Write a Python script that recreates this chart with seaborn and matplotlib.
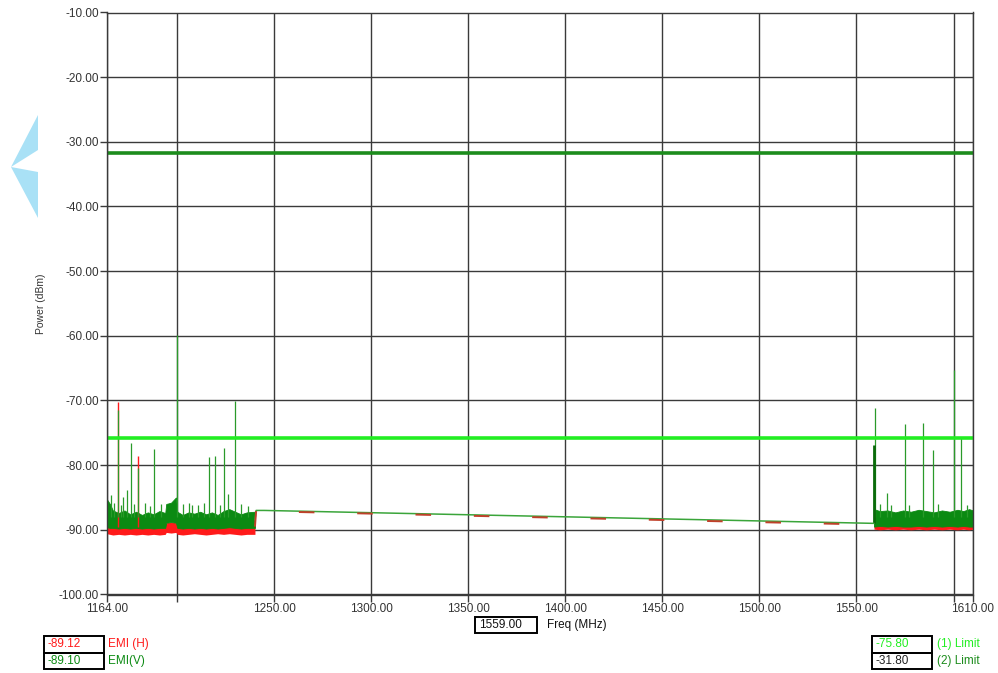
import matplotlib
matplotlib.use("Agg")
import matplotlib.pyplot as plt
from matplotlib.patches import Rectangle, Polygon
import seaborn as sns

band_freq_left = [1164.0, 1165.5, 1167.0, 1170.0, 1173.0, 1176.0, 1179.0, 1182.0, 1185.0,
                  1188.0, 1191.0, 1194.0, 1194.5, 1197.0, 1199.5, 1200.2, 1203.0, 1206.0,
                  1209.0, 1212.0, 1215.0, 1218.0, 1221.0, 1224.0, 1227.0, 1230.0, 1233.0,
                  1236.0, 1240.2]
v_hi_left = [-85.3, -86.0, -87.0, -87.4, -87.0, -87.6, -87.2, -87.7, -87.3,
             -87.6, -87.1, -87.4, -86.0, -85.8, -85.0, -87.2, -87.7, -87.3,
             -87.5, -87.2, -87.6, -87.3, -87.7, -87.1, -86.8, -87.2, -87.6,
             -87.3, -87.2]
v_lo_left = [-89.6, -89.7, -89.7, -89.8, -89.7, -89.8, -89.7, -89.8, -89.7,
             -89.8, -89.7, -89.7, -88.9, -88.8, -88.9, -89.7, -89.8, -89.7,
             -89.8, -89.7, -89.8, -89.7, -89.8, -89.7, -89.6, -89.7, -89.8,
             -89.7, -89.7]
h_hi_left = [-88.8, -88.9, -89.0, -89.1, -89.0, -89.1, -89.0, -89.1, -89.0,
             -89.1, -89.0, -89.0, -88.9, -88.8, -88.9, -89.0, -89.1, -89.0,
             -89.1, -89.0, -89.1, -89.0, -89.1, -89.0, -88.9, -89.0, -89.1,
             -89.0, -89.0]
h_lo_left = [-90.6, -90.7, -90.8, -90.7, -90.8, -90.7, -90.8, -90.7, -90.8,
             -90.7, -90.8, -90.7, -90.4, -90.5, -90.4, -90.7, -90.8, -90.7,
             -90.6, -90.7, -90.8, -90.7, -90.6, -90.7, -90.6, -90.7, -90.8,
             -90.7, -90.7]

band_freq_right = [1559.0, 1562.0, 1566.0, 1570.0, 1574.0, 1578.0, 1582.0, 1586.0,
                   1590.0, 1594.0, 1598.0, 1602.0, 1605.0, 1608.0, 1610.0]
v_hi_right = [-86.8, -87.1, -87.0, -87.3, -87.0, -87.2, -86.9, -87.1,
              -87.3, -87.0, -87.2, -86.9, -87.1, -86.8, -87.0]
v_lo_right = [-89.5, -89.4, -89.5, -89.4, -89.5, -89.5, -89.4, -89.5,
              -89.4, -89.5, -89.4, -89.5, -89.4, -89.5, -89.5]
h_hi_right = [-87.6, -87.4, -87.8, -87.5, -87.9, -87.4, -87.8, -87.6,
              -87.9, -87.7, -87.8, -87.5, -87.9, -87.6, -87.8]
h_lo_right = [-89.9, -90.0, -89.9, -90.0, -89.9, -90.0, -89.9, -90.0,
              -89.9, -90.0, -89.9, -90.0, -89.9, -90.0, -89.9]

# straight sweep between the two bands
v_sweep_freq = [1240.2, 1240.8, 1245.0, 1559.0]
v_sweep_db = [-88.5, -87.0, -87.0, -89.0]
h_sweep_freq = [1240.2, 1240.8, 1559.0]
h_sweep_db = [-89.5, -87.1, -89.2]

# narrow spikes (frequency, peak dBm)
v_spike_freq = [1166.0, 1167.5, 1169.7, 1171.0, 1172.4, 1174.1, 1176.2, 1178.0, 1180.1,
                1183.5, 1186.0, 1188.2, 1192.0, 1200.0, 1203.0, 1206.0, 1208.0, 1211.0,
                1214.0, 1216.5, 1219.6, 1222.0, 1224.1, 1226.5, 1229.9, 1233.0, 1236.5,
                1559.3, 1562.0, 1565.8, 1568.0, 1574.9, 1577.0, 1584.0, 1589.3, 1592.0,
                1600.1, 1603.8, 1607.0]
v_spike_db = [-84.6, -85.8, -71.5, -86.2, -85.0, -83.8, -76.6, -86.0, -80.5,
              -85.8, -86.3, -77.5, -86.0, -59.9, -86.0, -85.9, -86.2, -86.1,
              -85.8, -78.7, -78.6, -86.2, -77.3, -84.5, -70.1, -86.0, -86.3,
              -71.2, -86.0, -84.3, -86.2, -73.6, -86.1, -73.5, -77.6, -86.0,
              -65.3, -75.8, -86.2]
h_spike_freq = [1169.7, 1180.1]
h_spike_db = [-70.3, -78.6]
step_freq = [1559.2]
step_db = [-76.9]

limit1 = -75.80
limit2 = -31.80
marker_freq = "1559.00"
readout_h = "-89.12"
readout_v = "-89.10"

xtick_major = [1164, 1250, 1300, 1350, 1400, 1450, 1500, 1550, 1610]
xtick_minor = [1200, 1600]
ytick = list(range(-100, 0, 10))

RED = "#ff1a1a"
GREEN = "#0b8a12"
LIME = "#22ee22"
DKGREEN = "#1c8c1c"

sns.set_style("white")
plt.rcParams["font.family"] = ["Liberation Sans", "DejaVu Sans"]

fig = plt.figure(figsize=(9.98, 6.73), dpi=100)
ax = fig.add_axes([107 / 998, 1 - 594.5 / 673, 866 / 998, 582 / 673])

# grid
ax.set_xlim(1164, 1610)
ax.set_ylim(-100, -10)
ax.set_xticks(xtick_major)
ax.set_xticks(xtick_minor, minor=True)
ax.set_xticklabels([f"{t:.2f}" for t in xtick_major])
ax.set_yticks(ytick)
ax.set_yticklabels([f"{t:.2f}" for t in ytick])
ax.grid(True, which="both", color="#3a3a3a", linewidth=1.0)
ax.set_axisbelow(True)
for s in ax.spines.values():
    s.set_color("#3a3a3a")
    s.set_linewidth(1.0)
ax.tick_params(which="both", direction="out", length=5, width=1, color="#3a3a3a",
               labelsize=8.5, labelcolor="#333333", pad=1, bottom=True, left=True)

# EMI(H) red underneath, EMI(V) green on top
ax.fill_between(band_freq_left, h_lo_left, h_hi_left, color=RED, linewidth=0)
ax.fill_between(band_freq_right, h_lo_right, h_hi_right, color=RED, linewidth=0)
ax.vlines(h_spike_freq, -89.5, h_spike_db, color=RED, linewidth=1.0)

ax.fill_between(band_freq_left, v_lo_left, v_hi_left, color=GREEN, linewidth=0.6,
                edgecolor=GREEN)
ax.fill_between(band_freq_right, v_lo_right, v_hi_right, color=GREEN, linewidth=0.6,
                edgecolor=GREEN)
ax.vlines(v_spike_freq, -88.0, v_spike_db, color="#2a9a2a", linewidth=0.9)
ax.vlines(step_freq, -89.0, step_db, color="#0a6a0a", linewidth=2.0)

sns.lineplot(x=v_sweep_freq, y=v_sweep_db, ax=ax, color="#3aa53a", linewidth=1.1,
             sort=False)
sns.lineplot(x=h_sweep_freq, y=h_sweep_db, ax=ax, color="#c0402a", linewidth=1.4,
             sort=False)
ax.lines[-1].set_linestyle((0, (8, 22)))

# limit lines
sns.lineplot(x=[1164, 1610], y=[limit1, limit1], ax=ax, color=LIME, linewidth=2.6)
sns.lineplot(x=[1164, 1610], y=[limit2, limit2], ax=ax, color=DKGREEN, linewidth=2.6)

ax.set_xlabel("")
ax.set_ylabel("Power (dBm)", fontsize=7.5, color="#333333")
ax.yaxis.set_label_coords(-0.0704, 0.5)


def px(x, y):
    return x / 998, 1 - y / 673


def readout(x0, y0, w, h, value, color, label, lcolor, lx):
    fx, fy = px(x0, y0 + h)
    fig.patches.append(Rectangle((fx, fy), w / 998, h / 673, transform=fig.transFigure,
                                 fill=False, edgecolor="black", linewidth=1.4))
    tx, ty = px(x0 + 4, y0 + h / 2)
    fig.text(tx, ty, value, color=color, fontsize=8.5, va="center", ha="left")
    lx_, _ = px(lx, 0)
    fig.text(lx_, ty, label, color=lcolor, fontsize=8.5, va="center", ha="left")


readout(44, 636, 60, 16.5, readout_h, RED, "EMI (H)", RED, 108)
readout(44, 652.5, 60, 16.5, readout_v, GREEN, "EMI(V)", GREEN, 108)
readout(872, 636, 60, 16.5, f"{limit1:.2f}", LIME, "(1) Limit", LIME, 937)
readout(872, 652.5, 60, 16.5, f"{limit2:.2f}", "#222222", "(2) Limit", DKGREEN, 937)
readout(475, 617, 62, 16, marker_freq, "#111111", "Freq (MHz)", "#111111", 547)

# light blue arrow decoration at the left edge
blue = "#a9e1f6"
fig.patches.append(Polygon([px(38, 115), px(11, 167), px(38, 150)], closed=True,
                           transform=fig.transFigure, facecolor=blue, edgecolor="none"))
fig.patches.append(Polygon([px(11, 167), px(38, 172), px(38, 218)], closed=True,
                           transform=fig.transFigure, facecolor=blue, edgecolor="none"))

fig.savefig("out.png", dpi=100)
